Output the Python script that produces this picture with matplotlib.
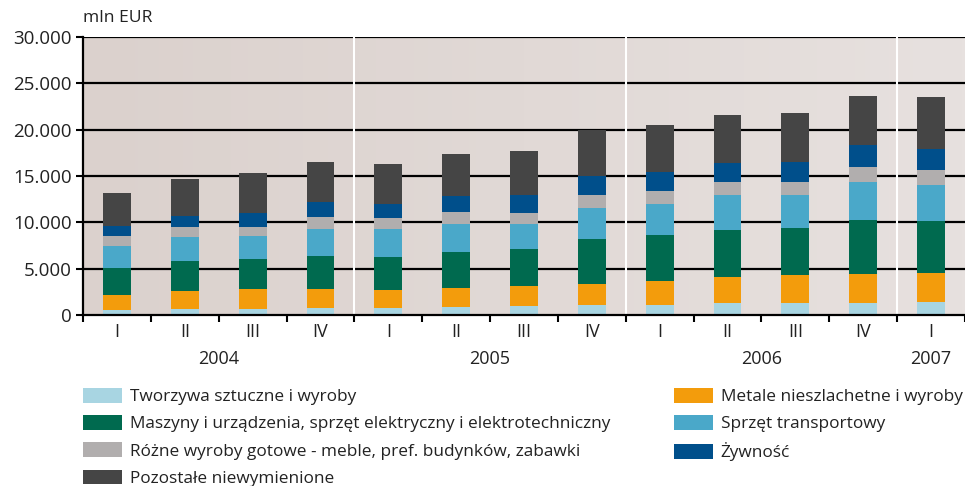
import matplotlib
matplotlib.use("Agg")
import matplotlib.pyplot as plt
import numpy as np
from matplotlib.patches import Patch
from matplotlib.colors import LinearSegmentedColormap

plt.rcParams['font.family'] = ['Open Sans', 'DejaVu Sans']

quarters = ["I", "II", "III", "IV", "I", "II", "III", "IV", "I", "II", "III", "IV", "I"]
years = ["2004", "2005", "2006", "2007"]
year_centers = [1.5, 5.5, 9.5, 12.0]
year_separators = [3.5, 7.5, 11.5]

tworzywa = [540, 648, 648, 756, 756, 864, 972, 1080, 1080, 1296, 1296, 1296, 1404]
metale = [1620, 1944, 2160, 2052, 1944, 2052, 2160, 2268, 2592, 2808, 3024, 3132, 3132]
maszyny = [2916, 3240, 3240, 3564, 3564, 3888, 3996, 4860, 4968, 5076, 5076, 5832, 5616]
transport = [2376, 2592, 2484, 2916, 3024, 3024, 2700, 3348, 3348, 3780, 3564, 4104, 3888]
rozne = [1080, 1080, 972, 1296, 1188, 1296, 1188, 1404, 1404, 1404, 1404, 1620, 1620]
zywnosc = [1080, 1224, 1512, 1656, 1548, 1764, 1944, 2052, 2052, 2052, 2160, 2376, 2268]
pozostale = [3564, 3960, 4320, 4284, 4284, 4500, 4752, 4968, 5076, 5184, 5292, 5292, 5616]

series = [
    ("Tworzywa sztuczne i wyroby", tworzywa, "#a8d5e2"),
    ("Metale nieszlachetne i wyroby", metale, "#f39c0c"),
    ("Maszyny i urządzenia, sprzęt elektryczny i elektrotechniczny", maszyny, "#006a4f"),
    ("Sprzęt transportowy", transport, "#4aa8c9"),
    ("Różne wyroby gotowe - meble, pref. budynków, zabawki", rozne, "#b1aeae"),
    ("Żywność", zywnosc, "#004f8b"),
    ("Pozostałe niewymienione", pozostale, "#454545"),
]

TXT = "#222222"
fig = plt.figure(figsize=(9.65, 4.86), dpi=100)
W, H = 965, 486
ax = fig.add_axes([83 / W, 1 - 315 / H, (965 - 83) / W, (315 - 37) / H])

n = len(quarters)
x = np.arange(n)

grad = np.linspace(0, 1, 256).reshape(1, -1)
cmap = LinearSegmentedColormap.from_list("bg", ["#dbd1cd", "#e7e1df"])
ax.imshow(grad, extent=[-0.5, n - 0.5, 0, 30000], aspect='auto', cmap=cmap, zorder=0)

for yv in [5000, 10000, 15000, 20000, 25000, 30000]:
    ax.axhline(yv, color="black", lw=1.6, zorder=1)
for s in year_separators:
    ax.axvline(s, color="white", lw=1.5, zorder=1)

bottom = np.zeros(n)
handles = {}
for label, vals, col in series:
    v = np.array(vals, dtype=float)
    ax.bar(x, v, bottom=bottom, width=0.41, color=col, zorder=2, linewidth=0)
    bottom += v
    handles[label] = Patch(facecolor=col, edgecolor='none', label=label)

ax.set_xlim(-0.5, n - 0.5)
ax.set_ylim(0, 30000)
ax.set_yticks([0, 5000, 10000, 15000, 20000, 25000, 30000])
ax.set_yticklabels(["0", "5.000", "10.000", "15.000", "20.000", "25.000", "30.000"])
ax.set_xticks(np.arange(-0.5, n, 1.0))
ax.set_xticklabels([])
ax.tick_params(axis='y', length=5, width=1.5, labelsize=13.5, labelcolor=TXT, pad=3)
ax.tick_params(axis='x', length=5, width=1.5, direction='out')
for sp in ["top", "right"]:
    ax.spines[sp].set_visible(False)
ax.spines["left"].set_linewidth(1.6)
ax.spines["bottom"].set_linewidth(1.6)

for i, q in enumerate(quarters):
    ax.text(i, -900, q, ha='center', va='top', fontsize=13, color=TXT)
for yc, yl in zip(year_centers, years):
    ax.text(yc, -3800, yl, ha='center', va='top', fontsize=13, color=TXT)

fig.text(83 / W, 1 - 18 / H, "mln EUR", ha='left', va='center', fontsize=12.6, color=TXT)

left_labels = [series[0][0], series[2][0], series[4][0], series[6][0]]
right_labels = [series[1][0], series[3][0], series[5][0]]

fs = 12.4
common = dict(loc='upper left', frameon=False, fontsize=fs, handlelength=2.27,
              handleheight=0.93, handletextpad=0.45, labelspacing=0.58,
              borderaxespad=0, borderpad=0)
leg1 = fig.legend(handles=[handles[l] for l in left_labels],
                  bbox_to_anchor=(83 / W, 1 - 388 / H), **common)
leg2 = fig.legend(handles=[handles[l] for l in right_labels],
                  bbox_to_anchor=(674 / W, 1 - 388 / H), **common)
for lg in (leg1, leg2):
    for t in lg.get_texts():
        t.set_color(TXT)

fig.savefig("out.png", dpi=100)
